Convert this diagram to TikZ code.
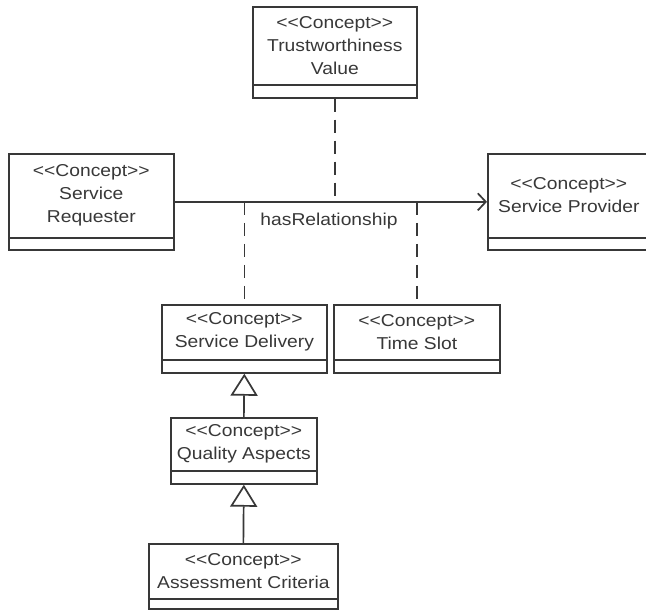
\documentclass[tikz,border=0pt]{standalone}
\usepackage{fontspec}
\setmainfont{Liberation Sans}[FakeStretch=1.12, Ligatures=TeXOff]
\usetikzlibrary{arrows.meta}
\definecolor{ln}{HTML}{383838}
\definecolor{tx}{HTML}{383838}
\tikzset{
  cls/.style={draw=ln, line width=1.7pt, fill=white, inner sep=0pt, anchor=north west},
  txt/.style={text=tx, align=center, inner sep=0pt, font=\fontsize{17.2}{23}\selectfont},
  conn/.style={draw=ln, line width=1.7pt},
  dep/.style={draw=ln, line width=1.7pt, dash pattern=on 13pt off 8pt},
  gen/.style={draw=ln, line width=1.7pt, -{Triangle[open, length=22pt, width=27pt, fill=white]}},
}
\newcommand{\clsbox}[7]{%
  % #1 name, #2 x, #3 y, #4 width, #5 height, #6 lower compartment height, #7 text
  \node[cls, minimum width=#4pt, minimum height=#5pt] (#1) at (#2,#3) {};
  \draw[ln, line width=2pt] ([yshift=#6pt]#1.south west) -- ([yshift=#6pt]#1.south east);
  \path (#1.north) -- ([yshift=#6pt]#1.south) node[midway, txt] {#7};
}
\begin{document}
\begin{tikzpicture}[x=1pt, y=-1pt]
\useasboundingbox (0,0) rectangle (646,612);
\fill[white] (0,0) rectangle (646,612);
\clsbox{tv}{252}{6}{164}{91}{14}{<<Concept>>\\Trustworthiness\\Value}
\clsbox{sr}{8}{153}{165}{96}{13}{<<Concept>>\\Service\\Requester}
\clsbox{sp}{487}{153}{162}{96}{13}{<<Concept>>\\Service Provider}
\clsbox{sd}{161}{304}{165}{68}{14}{<<Concept>>\\Service Delivery}
\clsbox{ts}{333}{304}{166}{68}{14}{<<Concept>>\\Time Slot}
\clsbox{qa}{170}{417}{146}{66}{14}{<<Concept>>\\Quality Aspects}
\clsbox{ac}{148}{543}{189}{65}{11}{<<Concept>>\\Assessment Criteria}
% association
\draw[conn, -{Straight Barb[length=8pt, width=17pt]}] (sr.east) -- (sp.west);
\node[txt, anchor=center] (lbl) at (329,221) {hasRelationship};
% dependencies
\coordinate (j1) at (tv.south |- sr.east);
\coordinate (j2) at (sd.north |- sr.east);
\coordinate (j3) at (ts.north |- sr.east);
\draw[dep] (tv.south) -- (j1);
\draw[dep] (j2) -- (sd.north);
\draw[dep] (j3) -- (ts.north);
% generalizations
\draw[gen] (qa.north) -- (sd.south);
\draw[gen] (ac.north) -- (qa.south);
\end{tikzpicture}
\end{document}
